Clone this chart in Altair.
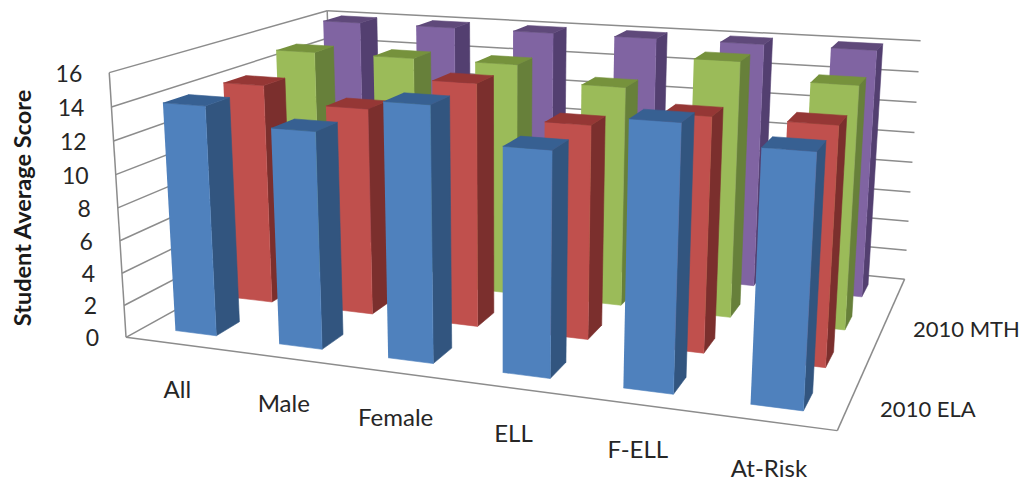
import numpy as np
import pandas as pd
import altair as alt

categories = ["All", "Male", "Female", "ELL", "F-ELL", "At-Risk"]
series_names = ["2010 ELA", "", "2010 MTH", ""]
s_ela = [14, 13, 15, 13, 15, 14]
s_2 = [14, 13, 15, 13, 14, 14]
s_mth = [15, 15, 15, 14, 16, 15]
s_4 = [16, 16, 16, 16, 16, 16]
series_values = [s_ela, s_2, s_mth, s_4]
z_ticks = [0, 2, 4, 6, 8, 10, 12, 14, 16]
front_colors = ["#4F81BD", "#C0504D", "#9BBB59", "#8064A2"]
side_colors = ["#32557F", "#7B2F2D", "#67803A", "#533F70"]
top_colors = ["#376092", "#953735", "#76923C", "#5F497A"]
grid_color = "#8C8C8C"
text_color = "#262626"
font = "Lato"

# Camera calibration of the 3-D box: (category, depth, value) -> page pixel
D = 4.0
N = 6.0
calib = [((0, 0, 0), (126, 338)), ((0, 0, 16), (108, 72)), ((0, D, 16), (327, 11)),
         ((N, D, 16), (920, 41)), ((N, D, 0), (904, 279)), ((N, 0, 0), (837, 431)),
         ((0, 0, 14), (113, 107)), ((0, 0, 2), (124, 305)), ((N, D, 14), (919, 72)),
         ((N, D, 2), (907, 250)), ((N, D, 8), (913, 162))]
A = []
for (X, Y, Z), (u, v) in calib:
    A.append([X, Y, Z, 1, 0, 0, 0, 0, -u * X, -u * Y, -u * Z, -u])
    A.append([0, 0, 0, 0, X, Y, Z, 1, -v * X, -v * Y, -v * Z, -v])
P = np.linalg.svd(np.array(A, float))[2][-1].reshape(3, 4)


def proj(X, Y, Z):
    h = P @ np.array([X, Y, Z, 1.0])
    return float(h[0] / h[2]), float(h[1] / h[2])


polys = []
lines = []
pid = 0


def add_poly(corners, color):
    global pid
    for k, c in enumerate(corners):
        x, y = proj(*c)
        polys.append(dict(px=x, py=y, pid=pid, k=k, col=color))
    pid += 1


def add_line(a, b):
    global pid
    for k, c in enumerate((a, b)):
        x, y = proj(*c)
        lines.append(dict(px=x, py=y, pid=pid, k=k))
    pid += 1


# Frame and gridlines
for z in z_ticks:
    add_line((0, 0, z), (0, D, z))
    add_line((0, D, z), (N, D, z))
add_line((0, 0, 0), (0, 0, 16))
add_line((0, D, 0), (0, D, 16))
add_line((0, 0, 0), (N, 0, 0))
add_line((N, 0, 0), (N, D, 0))

# Bars, back to front
a, b = 0.3, 0.7
for j in range(3, -1, -1):
    for i, v in enumerate(series_values[j]):
        x0, x1, y0, y1 = i + a, i + b, j + a, j + b
        add_poly([(x1, y0, 0), (x1, y1, 0), (x1, y1, v), (x1, y0, v)], side_colors[j])
        add_poly([(x0, y0, 0), (x1, y0, 0), (x1, y0, v), (x0, y0, v)], front_colors[j])
        add_poly([(x0, y0, v), (x1, y0, v), (x1, y1, v), (x0, y1, v)], top_colors[j])

# Texts
ticks = []
for z in z_ticks:
    x, y = proj(0, 0, z)
    ticks.append(dict(px=x - 27, py=y + 2, t=str(z)))
cats = []
for i, c in enumerate(categories):
    x, y = proj(i + 0.5, 0, 0)
    cats.append(dict(px=x, py=y + (48 if i == 5 else 46.5), t=c))
sers = []
for j, s in enumerate(series_names):
    if s:
        x, y = proj(N, j + 0.5, 0)
        sers.append(dict(px=x + 80 + 1.5 * j, py=y + 3, t=s))

W, H = 1014, 473
xs = alt.X("px:Q", scale=alt.Scale(domain=[8, 8 + W], nice=False, zero=False), axis=None)
ys = alt.Y("py:Q", scale=alt.Scale(domain=[8 + H, 8], nice=False, zero=False), axis=None)

line_layer = alt.Chart(pd.DataFrame(lines)).mark_line(
    color=grid_color, strokeWidth=1.5, clip=False
).encode(x=xs, y=ys, detail="pid:N", order="k:Q")

poly_layer = alt.Chart(pd.DataFrame(polys)).mark_line(strokeWidth=0.6).encode(
    x=xs, y=ys, detail="pid:N", order="k:Q",
    fill=alt.Fill("col:N", scale=None, legend=None),
    stroke=alt.Stroke("col:N", scale=None, legend=None),
)


def text_layer(rows, align, size, color=text_color):
    return alt.Chart(pd.DataFrame(rows)).mark_text(
        align=align, baseline="middle", font=font, fontSize=size, color=color
    ).encode(x=xs, y=ys, text="t:N")


title = alt.Chart(pd.DataFrame([dict(px=24, py=208, t="Student Average Score")])).mark_text(
    angle=270, align="center", baseline="middle", font=font, fontSize=23.5, fontWeight="bold", color="#1a1a1a"
).encode(x=xs, y=ys, text="t:N")

chart = alt.layer(
    line_layer, poly_layer,
    text_layer(ticks, "right", 23), text_layer(cats, "center", 24), text_layer(sers, "center", 22), title,
).properties(width=W, height=H, padding=0, autosize=alt.AutoSizeParams(type="none")).configure_view(stroke=None)

chart.save("out.html", embed_options={"renderer": "svg", "actions": False})
